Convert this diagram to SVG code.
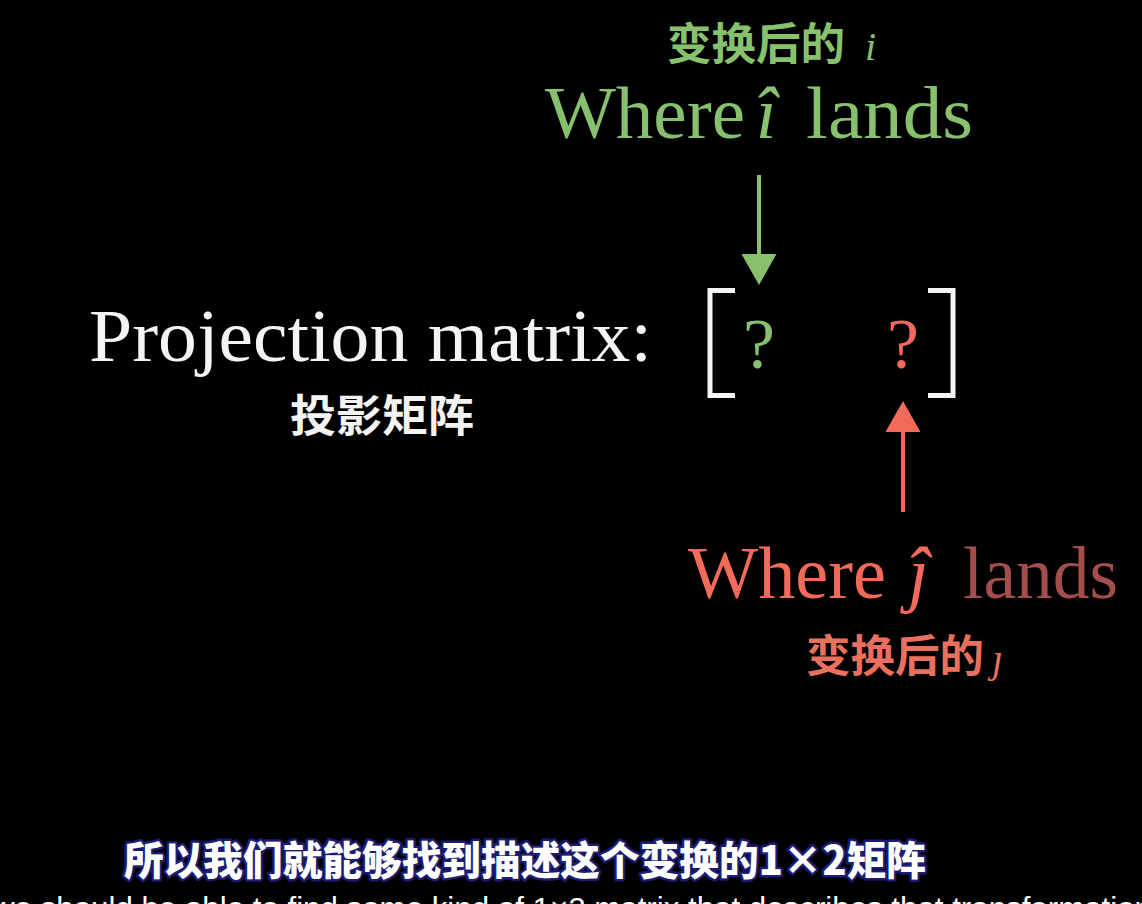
<svg xmlns="http://www.w3.org/2000/svg" width="1142" height="904" viewBox="0 0 1142 904">
  <style>
    .tex { font-family: "Liberation Serif", "DejaVu Serif", serif; }
    .cjk { font-family: "Noto Sans CJK SC", sans-serif; font-weight: 700; }
    .green { fill: #87c16d; }
    .red { fill: #f26a5a; }
    .white { fill: #f4f4f4; }
    .bracket { fill: none; stroke: #f4f4f4; stroke-width: 5; }
    .sub { font-family: "Noto Sans CJK SC", sans-serif; font-weight: 900; fill: #ffffff; stroke: #1c1c72; stroke-width: 5; paint-order: stroke; stroke-linejoin: round; }
  </style>
  <defs>
    <marker id="headG" markerUnits="userSpaceOnUse" markerWidth="31" markerHeight="35" viewBox="0 0 31 35" refX="0" refY="17.5" orient="auto">
      <path d="M0,0 L31,17.5 L0,35 Z" fill="#87c16d"/>
    </marker>
    <marker id="headR" markerUnits="userSpaceOnUse" markerWidth="31" markerHeight="35" viewBox="0 0 31 35" refX="0" refY="17.5" orient="auto">
      <path d="M0,0 L31,17.5 L0,35 Z" fill="#f26a5a"/>
    </marker>
  </defs>
  <rect x="0" y="0" width="1142" height="904" fill="#000000"/>

  <g id="label-i">
    <text class="cjk green" x="667" y="60" font-size="44" textLength="178" lengthAdjust="spacingAndGlyphs">变换后的</text>
    <text class="tex green" x="865" y="60" font-size="40" font-style="italic">i</text>
    <text class="tex green" x="545" y="138" font-size="74" textLength="200" lengthAdjust="spacingAndGlyphs">Where</text>
    <text class="tex green" x="756" y="138" font-size="74" font-style="italic">î</text>
    <text class="tex green" x="806" y="138" font-size="74" textLength="167" lengthAdjust="spacingAndGlyphs">lands</text>
  </g>

  <g id="label-projection">
    <text class="tex white" x="89" y="361" font-size="74" textLength="563" lengthAdjust="spacingAndGlyphs">Projection matrix:</text>
    <text class="cjk white" x="290" y="432" font-size="44" textLength="184" lengthAdjust="spacingAndGlyphs">投影矩阵</text>
  </g>

  <g id="matrix">
    <path class="bracket" d="M735,290.5 H710 V395.5 H735"/>
    <path class="bracket" d="M928,290.5 H953 V395.5 H928"/>
    <text class="tex green" x="759" y="368" font-size="72" text-anchor="middle">?</text>
    <text class="tex red" x="903" y="368" font-size="72" text-anchor="middle">?</text>
  </g>

  <g id="label-j">
    <text class="tex red" x="688" y="598" font-size="74" textLength="198" lengthAdjust="spacingAndGlyphs">Where</text>
    <text class="tex red" x="908" y="598" font-size="74" font-style="italic">ĵ</text>
    <text class="tex" x="963" y="598" font-size="74" fill="#a34e4c" textLength="155" lengthAdjust="spacingAndGlyphs">lands</text>
    <text class="cjk" x="806" y="672" font-size="44" fill="#e8705d" textLength="178" lengthAdjust="spacingAndGlyphs">变换后的</text>
    <text class="tex" x="992" y="672" font-size="40" font-style="italic" fill="#e8705d">ȷ</text>
  </g>

  <g id="connectors">
    <line x1="759" y1="175" x2="759" y2="254" stroke="#87c16d" stroke-width="4" marker-end="url(#headG)"/>
    <line x1="903" y1="512" x2="903" y2="432" stroke="#f26a5a" stroke-width="4" marker-end="url(#headR)"/>
  </g>

  <g id="subtitles">
    <text class="sub" x="124" y="875" font-size="40" textLength="802" lengthAdjust="spacingAndGlyphs">所以我们就能够找到描述这个变换的1×2矩阵</text>
    <text x="-8" y="918" font-family="Liberation Sans, sans-serif" font-size="30" fill="#ffffff" textLength="1160" lengthAdjust="spacingAndGlyphs">we should be able to find some kind of 1×2 matrix that describes that transformation</text>
  </g>
</svg>
